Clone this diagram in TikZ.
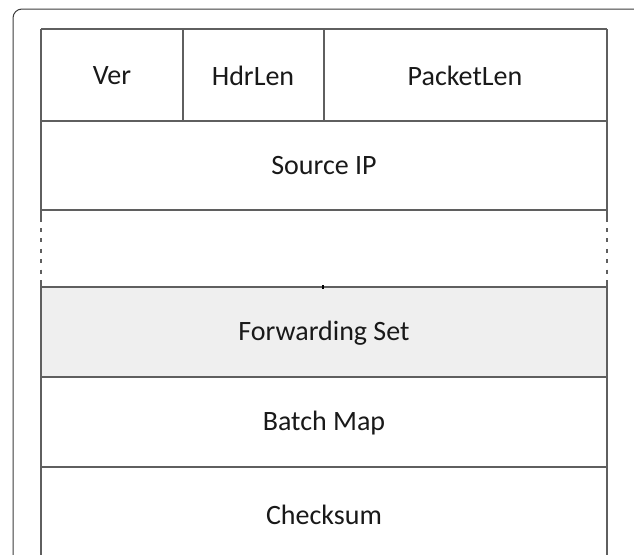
\documentclass[tikz,border=0pt]{standalone}
\usepackage{fontspec}
\setmainfont{Carlito}
\definecolor{gridline}{RGB}{95,95,95}
\definecolor{frameline}{RGB}{60,60,60}
\definecolor{cellshade}{RGB}{239,239,239}
\begin{document}
\begin{tikzpicture}[x=1pt,y=-1pt,
  cell/.style={line width=1.7pt,draw=gridline},
  lbl/.style={font=\fontsize{28}{33}\selectfont,text=black!90,inner sep=0pt,anchor=center}]
\useasboundingbox (0,0) rectangle (634,554);
\fill[white] (0,0) rectangle (634,554);
\begin{scope}
\clip (0,0) rectangle (634,554);
\draw[frameline,line width=1pt,rounded corners=9pt] (13,9) rectangle (642,600);
\fill[fill=cellshade] (41,287) rectangle (607,377);
% outer verticals
\draw[cell] (41,29) -- (41,222);
\draw[cell] (607,29) -- (607,222);
\draw[cell] (41,280) -- (41,560);
\draw[cell] (607,280) -- (607,560);
\draw[gridline,line width=1.7pt,dash pattern=on 4pt off 6.4pt] (41,228) -- (41,276);
\draw[gridline,line width=1.7pt,dash pattern=on 4pt off 6.4pt] (607,228) -- (607,276);
% horizontals
\draw[cell] (41,29) -- (607,29);
\draw[cell] (41,121) -- (607,121);
\draw[cell] (41,210) -- (607,210);
\draw[cell] (41,287) -- (607,287);
\draw[cell] (41,377) -- (607,377);
\draw[cell] (41,467) -- (607,467);
% column separators
\draw[cell] (183,29) -- (183,121);
\draw[cell] (324,29) -- (324,121);
\draw[black,line width=1.7pt] (323,285) -- (323,289);
\end{scope}
\node[lbl] (ver) at (112,76) {Ver};
\node[lbl] (hdr) at (253,76) {HdrLen};
\node[lbl] (plen) at (465,76) {PacketLen};
\node[lbl] (src) at (324,166) {Source IP};
\node[lbl] (fwd) at (324,333) {Forwarding Set};
\node[lbl] (bmap) at (324,423) {Batch Map};
\node[lbl] (csum) at (324,515) {Checksum};
\end{tikzpicture}
\end{document}
